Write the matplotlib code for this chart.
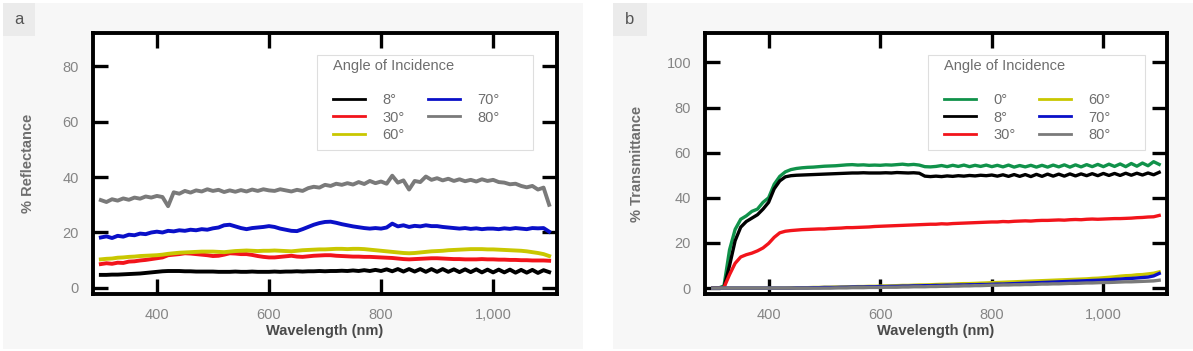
import numpy as np
import matplotlib
matplotlib.use("Agg")
import matplotlib.pyplot as plt
from matplotlib.patches import Rectangle
from matplotlib.ticker import StrMethodFormatter

plt.rcParams['font.family'] = ['Liberation Sans', 'DejaVu Sans']

# wavelength grid (nm)
wavelength = np.arange(300, 1101, 10)

# panel a : % reflectance
refl_8 = [4.7, 4.7, 4.8, 4.8, 4.9, 5.0, 5.1, 5.2, 5.4, 5.6,
          5.8, 6.0, 6.1, 6.1, 6.1, 6.0, 6.0, 5.9, 5.9, 5.9,
          5.9, 5.8, 5.8, 5.8, 5.9, 5.8, 5.8, 5.9, 5.8, 5.8,
          5.8, 5.9, 5.8, 5.9, 5.9, 6.0, 5.9, 6.0, 6.0, 6.1,
          6.0, 6.1, 6.1, 6.2, 6.1, 6.3, 6.1, 6.4, 6.1, 6.5,
          6.1, 6.7, 6.0, 6.8, 5.9, 6.8, 5.9, 6.8, 5.8, 6.8,
          5.8, 6.8, 5.8, 6.7, 5.7, 6.7, 5.7, 6.7, 5.6, 6.6,
          5.6, 6.6, 5.6, 6.6, 5.5, 6.5, 5.5, 6.5, 5.4, 6.4,
          5.7]
refl_30 = [8.6, 8.9, 8.7, 9.1, 9.0, 9.5, 9.6, 9.9, 10.1, 10.4,
           10.7, 11.0, 11.8, 12.0, 12.2, 12.5, 12.4, 12.2, 12.0, 11.8,
           11.5, 11.6, 12.0, 12.5, 12.4, 12.2, 12.2, 11.9, 11.5, 11.2,
           11.0, 11.0, 11.2, 11.4, 11.6, 11.3, 11.2, 11.4, 11.6, 11.7,
           11.8, 11.8, 11.6, 11.5, 11.4, 11.3, 11.3, 11.2, 11.2, 11.1,
           11.0, 10.9, 10.8, 10.6, 10.4, 10.3, 10.4, 10.5, 10.6, 10.7,
           10.7, 10.6, 10.5, 10.4, 10.4, 10.3, 10.3, 10.3, 10.4, 10.3,
           10.3, 10.2, 10.2, 10.1, 10.1, 10.0, 10.0, 9.9, 9.9, 9.9,
           9.8]
refl_60 = [10.3, 10.5, 10.6, 10.9, 11.0, 11.2, 11.3, 11.5, 11.6, 11.7,
           11.8, 12.0, 12.3, 12.5, 12.7, 12.8, 12.9, 13.0, 13.1, 13.1,
           13.1, 13.0, 12.9, 13.1, 13.3, 13.4, 13.5, 13.4, 13.3, 13.4,
           13.4, 13.5, 13.4, 13.3, 13.2, 13.4, 13.6, 13.7, 13.8, 13.9,
           13.9, 14.0, 14.1, 14.1, 14.0, 14.1, 14.1, 14.0, 13.8, 13.6,
           13.4, 13.2, 13.0, 12.8, 12.6, 12.5, 12.6, 12.8, 13.0, 13.2,
           13.3, 13.4, 13.6, 13.7, 13.8, 13.9, 14.0, 14.0, 14.0, 13.9,
           13.9, 13.8, 13.7, 13.6, 13.5, 13.4, 13.2, 12.9, 12.6, 12.2,
           11.5]
refl_70 = [18.2, 18.6, 18.0, 18.8, 18.5, 19.2, 19.0, 19.6, 19.4, 20.0,
           20.3, 20.0, 20.6, 20.4, 20.8, 20.6, 21.0, 20.8, 21.2, 21.0,
           21.5, 21.8, 22.6, 22.8, 22.2, 21.6, 21.2, 21.6, 21.8, 22.0,
           22.3, 22.0, 21.4, 21.0, 20.6, 20.5, 21.2, 22.0, 22.8, 23.4,
           23.8, 23.9, 23.5, 23.0, 22.6, 22.2, 21.9, 21.6, 21.4, 21.6,
           21.4, 21.8, 23.2, 22.2, 22.6, 22.0, 22.4, 22.2, 22.6, 22.3,
           22.3, 22.0, 21.8, 21.6, 21.4, 21.6, 21.3, 21.5, 21.2, 21.4,
           21.4, 21.2, 21.5, 21.3, 21.6, 21.4, 21.2, 21.6, 21.5, 21.6,
           20.3]
refl_80 = [31.7, 31.0, 32.0, 31.5, 32.3, 31.8, 32.6, 32.2, 33.0, 32.6,
           33.2, 32.8, 29.5, 34.5, 34.0, 35.0, 34.4, 35.2, 34.8, 35.6,
           35.0, 35.4, 34.6, 35.2, 34.7, 35.3, 34.8, 35.5, 35.0, 35.6,
           35.2, 35.0, 35.6, 35.2, 34.8, 35.4, 35.0, 36.0, 36.5, 36.2,
           37.2, 36.8, 37.6, 37.2, 37.8, 37.3, 38.2, 37.5, 38.6, 37.8,
           38.4, 37.6, 40.5, 38.0, 38.8, 35.5, 38.6, 38.2, 40.2, 39.0,
           39.6, 38.8, 39.4, 38.6, 39.2, 38.5, 39.0, 38.4, 39.2, 38.6,
           39.0, 38.2, 38.0, 37.4, 37.6, 36.8, 36.3, 36.8, 35.5, 36.2,
           30.0]

# panel b : % transmittance
trans_0 = [0, 0, 1.0, 17.0, 26.0, 30.5, 32.0, 34.0, 35.0, 38.0,
           40.0, 46.0, 49.5, 51.5, 52.5, 53.0, 53.3, 53.5, 53.6, 53.8,
           54.0, 54.1, 54.2, 54.4, 54.6, 54.7, 54.5, 54.6, 54.4, 54.5,
           54.4, 54.6, 54.5, 54.7, 54.9, 54.6, 54.8, 54.5, 53.8, 53.7,
           53.9, 54.3, 53.8, 54.4, 53.9, 54.5, 53.8, 54.4, 53.9, 54.5,
           53.8, 54.4, 53.7, 54.5, 53.6, 54.3, 53.7, 54.4, 53.6, 54.4,
           53.6, 54.5, 53.7, 54.6, 53.6, 54.6, 53.7, 54.7, 53.8, 54.8,
           53.8, 54.9, 53.9, 55.0, 53.8, 55.2, 54.0, 55.4, 54.2, 56.0,
           54.8]
trans_8 = [0, 0, 0.3, 10.0, 21.0, 27.0, 29.5, 31.0, 32.5, 35.0,
           38.0, 44.0, 47.5, 49.3, 49.8, 50.0, 50.1, 50.2, 50.3, 50.4,
           50.5, 50.6, 50.7, 50.8, 50.9, 51.0, 51.0, 51.1, 51.0, 51.0,
           51.0, 51.1, 51.0, 51.2, 51.1, 51.0, 51.1, 50.9, 49.6, 49.4,
           49.6, 49.4, 49.7, 49.5, 49.8, 49.6, 49.9, 49.7, 50.0, 49.8,
           50.1, 49.6, 50.2, 49.5, 50.3, 49.5, 50.3, 49.4, 50.4, 49.5,
           50.5, 49.6, 50.5, 49.6, 50.6, 49.7, 50.6, 49.8, 50.7, 49.8,
           50.8, 49.9, 50.8, 49.9, 50.9, 50.0, 50.9, 50.1, 51.0, 50.2,
           51.3]
trans_30 = [0, 0, 0.3, 6.0, 11.0, 13.8, 14.8, 15.5, 16.5, 17.8,
            19.8, 22.5, 24.5, 25.2, 25.5, 25.7, 25.9, 26.0, 26.1, 26.2,
            26.2, 26.4, 26.5, 26.6, 26.8, 26.8, 26.9, 27.0, 27.1, 27.3,
            27.4, 27.5, 27.6, 27.7, 27.8, 27.9, 28.0, 28.1, 28.2, 28.3,
            28.3, 28.5, 28.4, 28.6, 28.7, 28.8, 28.9, 29.0, 29.1, 29.2,
            29.3, 29.3, 29.5, 29.4, 29.6, 29.7, 29.8, 29.7, 29.9, 30.0,
            30.0, 30.1, 30.2, 30.1, 30.3, 30.4, 30.3, 30.5, 30.6, 30.5,
            30.6, 30.7, 30.8, 30.8, 30.9, 31.0, 31.2, 31.3, 31.5, 31.6,
            32.2]
trans_60 = [0, 0, 0, 0, 0, 0, 0, 0, 0, 0,
            0, 0, 0, 0, 0.1, 0.1, 0.2, 0.2, 0.3, 0.3,
            0.4, 0.4, 0.5, 0.5, 0.6, 0.6, 0.7, 0.7, 0.8, 0.8,
            0.9, 1.0, 1.0, 1.1, 1.2, 1.2, 1.3, 1.4, 1.4, 1.5,
            1.6, 1.7, 1.7, 1.8, 1.9, 2.0, 2.0, 2.1, 2.2, 2.3,
            2.4, 2.5, 2.6, 2.7, 2.8, 2.9, 3.0, 3.1, 3.2, 3.3,
            3.4, 3.5, 3.6, 3.7, 3.8, 3.9, 4.0, 4.1, 4.3, 4.4,
            4.6, 4.8, 5.0, 5.3, 5.5, 5.6, 5.9, 6.0, 6.3, 6.6,
            7.2]
trans_70 = [0, 0, 0, 0, 0, 0, 0, 0, 0, 0,
            0, 0, 0, 0, 0, 0.1, 0.1, 0.1, 0.2, 0.2,
            0.3, 0.3, 0.3, 0.4, 0.4, 0.5, 0.5, 0.5, 0.6, 0.6,
            0.7, 0.7, 0.8, 0.8, 0.9, 0.9, 1.0, 1.0, 1.1, 1.1,
            1.2, 1.2, 1.3, 1.3, 1.4, 1.4, 1.5, 1.5, 1.6, 1.6,
            1.7, 1.8, 1.8, 1.9, 2.0, 2.1, 2.2, 2.3, 2.4, 2.5,
            2.6, 2.7, 2.8, 2.9, 3.0, 3.1, 3.2, 3.3, 3.4, 3.5,
            3.6, 3.7, 3.9, 4.0, 4.2, 4.3, 4.5, 4.7, 4.9, 5.4,
            6.5]
trans_80 = [0, 0, 0, 0, 0, 0, 0, 0, 0, 0,
            0, 0, 0, 0, 0, 0, 0, 0, 0, 0,
            0, 0, 0.1, 0.1, 0.1, 0.2, 0.2, 0.2, 0.3, 0.3,
            0.3, 0.4, 0.4, 0.4, 0.5, 0.5, 0.6, 0.6, 0.6, 0.7,
            0.7, 0.8, 0.8, 0.9, 0.9, 1.0, 1.0, 1.1, 1.1, 1.2,
            1.3, 1.3, 1.4, 1.4, 1.5, 1.5, 1.6, 1.6, 1.7, 1.8,
            1.8, 1.9, 1.9, 2.0, 2.1, 2.1, 2.2, 2.3, 2.3, 2.4,
            2.5, 2.5, 2.6, 2.7, 2.8, 2.8, 2.9, 3.0, 3.1, 3.2,
            3.5]

refl_labels = ["8°", "30°", "60°", "70°", "80°"]
refl_colors = ["#000000", "#f2141b", "#c9c700", "#0a10c8", "#7a7a7a"]
trans_labels = ["0°", "8°", "30°", "60°", "70°", "80°"]
trans_colors = ["#10924a", "#000000", "#f2141b", "#c9c700", "#0a10c8", "#7a7a7a"]

W, H = 1193, 351
fig = plt.figure(figsize=(W / 100, H / 100), dpi=100, facecolor="white")

# panel backgrounds and letter boxes (pixel boxes -> figure fraction)
def px_rect(x0, y0, x1, y1, color):
    fig.patches.append(Rectangle((x0 / W, 1 - y1 / H), (x1 - x0) / W, (y1 - y0) / H,
                                 transform=fig.transFigure, facecolor=color,
                                 edgecolor="none", zorder=-10))

px_rect(3, 3, 583, 349, "#f7f7f7")
px_rect(613, 3, 1193, 349, "#f7f7f7")
px_rect(3, 3, 35, 36, "#ebebeb")
px_rect(613, 3, 647, 36, "#ebebeb")
fig.text(19 / W, 1 - 20 / H, "a", ha="center", va="center", fontsize=12, color="#555555")
fig.text(630 / W, 1 - 20 / H, "b", ha="center", va="center", fontsize=12, color="#555555")


def style_axes(ax, ylim, yticks, ylabel, ylab_x):
    ax.set_xlim(286, 1114)
    ax.set_ylim(*ylim)
    ax.set_xticks([400, 600, 800, 1000])
    ax.set_yticks(yticks)
    ax.xaxis.set_major_formatter(StrMethodFormatter("{x:,.0f}"))
    ax.tick_params(direction="in", length=11, width=2.4, top=True, right=True,
                   labelsize=10.5, labelcolor="#858585", pad=10, color="black")
    for s in ax.spines.values():
        s.set_linewidth(2.8)
    ax.set_xlabel("Wavelength (nm)", fontsize=10.5, fontweight="bold", color="#4a4a4a")
    ax.xaxis.set_label_coords(0.5, -0.115)
    ax.set_ylabel(ylabel, fontsize=10.5, fontweight="bold", color="#6e6e6e")
    ax.yaxis.set_label_coords(ylab_x, 0.5)


def add_legend(ax, handles, box):
    x0, x1 = box
    ax.add_patch(Rectangle((x0, 0.552), x1 - x0, 0.364, transform=ax.transAxes,
                           facecolor="white", edgecolor="#dedede", lw=0.8, zorder=4))
    leg = ax.legend(handles=handles, ncol=2, loc="upper left",
                    bbox_to_anchor=(x0 + 0.034, 0.9), borderaxespad=0, borderpad=0,
                    frameon=False, title="Angle of Incidence\n", alignment="left",
                    fontsize=10.5, title_fontsize=10.5, handlelength=2.2,
                    handletextpad=1.2, columnspacing=1.6, labelspacing=0.25)
    leg.set_zorder(5)
    leg.get_title().set_color("#6e6e6e")
    for t in leg.get_texts():
        t.set_color("#6e6e6e")
    for h in leg.legend_handles:
        h.set_linewidth(2.0)


# panel a
ax1 = fig.add_axes([93 / W, 1 - 294 / H, 464 / W, 261 / H])
lines = []
for vals, lab, col in zip([refl_8, refl_30, refl_60, refl_70, refl_80], refl_labels, refl_colors):
    ln, = ax1.plot(wavelength, vals, color=col, lw=2.8, label=lab)
    lines.append(ln)
style_axes(ax1, (-2.2, 92), [0, 20, 40, 60, 80], "% Reflectance", -0.124)
add_legend(ax1, lines, (0.483, 0.948))

# panel b
ax2 = fig.add_axes([705 / W, 1 - 294 / H, 462 / W, 261 / H])
lines = []
for vals, lab, col in zip([trans_0, trans_8, trans_30, trans_60, trans_70, trans_80],
                          trans_labels, trans_colors):
    ln, = ax2.plot(wavelength, vals, color=col, lw=2.4, label=lab)
    lines.append(ln)
style_axes(ax2, (-2.6, 113), [0, 20, 40, 60, 80, 100], "% Transmittance", -0.133)
add_legend(ax2, lines, (0.483, 0.952))

fig.savefig("out.png", dpi=100, facecolor="white")
